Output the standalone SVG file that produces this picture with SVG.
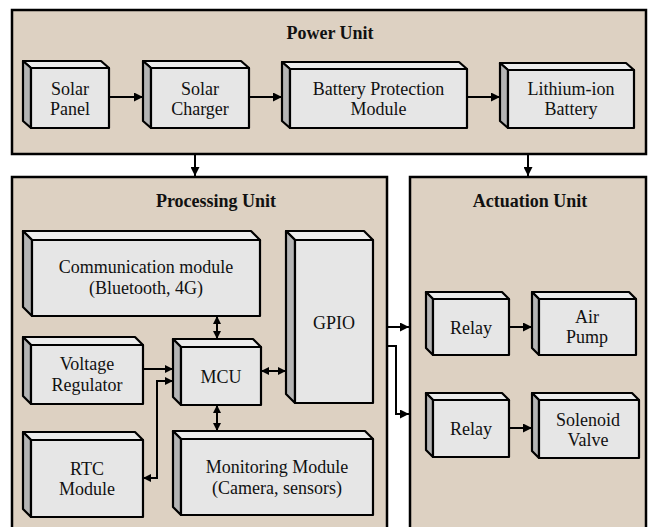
<svg xmlns="http://www.w3.org/2000/svg" width="649" height="527" viewBox="0 0 649 527">
<style>
.unit{fill:#ddd1c2;stroke:#000;stroke-width:2.5}
.front{fill:#e6e6e6;stroke:#000;stroke-width:2.2;stroke-linejoin:round}
.top{fill:#ececec;stroke:#000;stroke-width:2.2;stroke-linejoin:round}
.side{fill:#b4b4b4;stroke:#000;stroke-width:2.2;stroke-linejoin:round}
text{font-family:'Liberation Serif','DejaVu Serif',serif;font-size:18px;fill:#111;text-anchor:middle}
.h{font-weight:bold}
.c{fill:none;stroke:#000;stroke-width:2}
</style>
<defs>
<marker id="ah" markerUnits="userSpaceOnUse" markerWidth="9" markerHeight="9" refX="9" refY="4.5" orient="auto-start-reverse"><path d="M0,0 L9,4.5 L0,9 z" fill="#000"/></marker>
<marker id="as" markerUnits="userSpaceOnUse" markerWidth="8" markerHeight="8" refX="8" refY="4" orient="auto-start-reverse"><path d="M0,0 L8,4 L0,8 z" fill="#000"/></marker>
</defs>

<g id="power-unit">
<rect class="unit" x="12" y="10" width="634" height="144"/>
<text class="h" x="330" y="39" font-family="Liberation Serif, serif">Power Unit</text>
</g>
<g id="processing-unit">
<rect class="unit" x="12" y="177" width="375" height="360"/>
<text class="h" x="216" y="207">Processing Unit</text>
</g>
<g id="actuation-unit">
<rect class="unit" x="410" y="177" width="236" height="360"/>
<text class="h" x="530" y="207">Actuation Unit</text>
</g>

<g id="solar-panel">
<polygon class="top" points="23,61 101,61 109,68 31,68"/>
<polygon class="side" points="23,61 31,68 31,128 23,121"/>
<rect class="front" x="31" y="68" width="78" height="60"/>
<text x="70" y="95">Solar</text><text x="70" y="115">Panel</text>
</g>
<g id="solar-charger">
<polygon class="top" points="143,61 241,61 249,68 151,68"/>
<polygon class="side" points="143,61 151,68 151,128 143,121"/>
<rect class="front" x="151" y="68" width="98" height="60"/>
<text x="200" y="95">Solar</text><text x="200" y="115">Charger</text>
</g>
<g id="battery-protection">
<polygon class="top" points="282,62 459,62 467,69 290,69"/>
<polygon class="side" points="282,62 290,69 290,128 282,121"/>
<rect class="front" x="290" y="69" width="177" height="59"/>
<text x="378.5" y="95">Battery Protection</text><text x="378.5" y="115">Module</text>
</g>
<g id="lithium-battery">
<polygon class="top" points="500,63 626,63 634,70 508,70"/>
<polygon class="side" points="500,63 508,70 508,128 500,121"/>
<rect class="front" x="508" y="70" width="126" height="58"/>
<text x="571" y="95">Lithium-ion</text><text x="571" y="115">Battery</text>
</g>

<g id="communication-module">
<polygon class="top" points="23,231 251,231 260,240 32,240"/>
<polygon class="side" points="23,231 32,240 32,316 23,307"/>
<rect class="front" x="32" y="240" width="228" height="76"/>
<text x="146" y="273">Communication module</text><text x="146" y="294">(Bluetooth, 4G)</text>
</g>
<g id="gpio">
<polygon class="top" points="286,231 364,231 373,240 295,240"/>
<polygon class="side" points="286,231 295,240 295,403 286,394"/>
<rect class="front" x="295" y="240" width="78" height="163"/>
<text x="334" y="329">GPIO</text>
</g>
<g id="mcu">
<polygon class="top" points="173,339 253,339 261,347 181,347"/>
<polygon class="side" points="173,339 181,347 181,405 173,397"/>
<rect class="front" x="181" y="347" width="80" height="58"/>
<text x="221" y="383">MCU</text>
</g>
<g id="voltage-regulator">
<polygon class="top" points="23,337 135,337 143,345 31,345"/>
<polygon class="side" points="23,337 31,345 31,404 23,396"/>
<rect class="front" x="31" y="345" width="112" height="59"/>
<text x="87" y="370">Voltage</text><text x="87" y="391">Regulator</text>
</g>
<g id="rtc-module">
<polygon class="top" points="23,432 135,432 143,440 31,440"/>
<polygon class="side" points="23,432 31,440 31,517 23,509"/>
<rect class="front" x="31" y="440" width="112" height="77"/>
<text x="87" y="475">RTC</text><text x="87" y="495">Module</text>
</g>
<g id="monitoring-module">
<polygon class="top" points="173,431 365,431 373,439 181,439"/>
<polygon class="side" points="173,431 181,439 181,515 173,507"/>
<rect class="front" x="181" y="439" width="192" height="76"/>
<text x="277" y="473">Monitoring Module</text><text x="277" y="494">(Camera, sensors)</text>
</g>

<g id="relay-1">
<polygon class="top" points="426,292 502,292 509,299 433,299"/>
<polygon class="side" points="426,292 433,299 433,355 426,348"/>
<rect class="front" x="433" y="299" width="76" height="56"/>
<text x="471" y="334">Relay</text>
</g>
<g id="air-pump">
<polygon class="top" points="532,292 629,292 636,299 539,299"/>
<polygon class="side" points="532,292 539,299 539,355 532,348"/>
<rect class="front" x="539" y="299" width="97" height="56"/>
<text x="587" y="323">Air</text><text x="587" y="343">Pump</text>
</g>
<g id="relay-2">
<polygon class="top" points="426,393 502,393 509,400 433,400"/>
<polygon class="side" points="426,393 433,400 433,457 426,450"/>
<rect class="front" x="433" y="400" width="76" height="57"/>
<text x="471" y="435">Relay</text>
</g>
<g id="solenoid-valve">
<polygon class="top" points="532,393 632,393 639,400 539,400"/>
<polygon class="side" points="532,393 539,400 539,458 532,451"/>
<rect class="front" x="539" y="400" width="100" height="58"/>
<text x="588" y="426">Solenoid</text><text x="588" y="446">Valve</text>
</g>

<g id="connectors">
<line class="c" x1="109" y1="97" x2="143" y2="97" marker-end="url(#ah)"/>
<line class="c" x1="249" y1="97" x2="282" y2="97" marker-end="url(#ah)"/>
<line class="c" x1="467" y1="97" x2="500" y2="97" marker-end="url(#ah)"/>
<line class="c" x1="195" y1="155" x2="195" y2="176" marker-end="url(#ah)"/>
<line class="c" x1="528" y1="155" x2="528" y2="176" marker-end="url(#ah)"/>
<line class="c" x1="217" y1="316" x2="217" y2="339" marker-start="url(#as)" marker-end="url(#as)"/>
<line class="c" x1="217" y1="405" x2="217" y2="431" marker-start="url(#as)" marker-end="url(#as)"/>
<line class="c" x1="261" y1="371" x2="286" y2="371" marker-start="url(#as)" marker-end="url(#as)"/>
<line class="c" x1="143" y1="369" x2="173" y2="369" marker-end="url(#as)"/>
<polyline class="c" points="143,478 157,478 157,381 173,381" marker-start="url(#as)" marker-end="url(#as)"/>
<line class="c" x1="387" y1="327" x2="409" y2="327" marker-end="url(#ah)"/>
<polyline class="c" points="387,346 396,346 396,414 409,414" marker-end="url(#ah)"/>
<line class="c" x1="509" y1="327" x2="532" y2="327" marker-end="url(#ah)"/>
<line class="c" x1="509" y1="428" x2="532" y2="428" marker-end="url(#ah)"/>
</g>
</svg>
